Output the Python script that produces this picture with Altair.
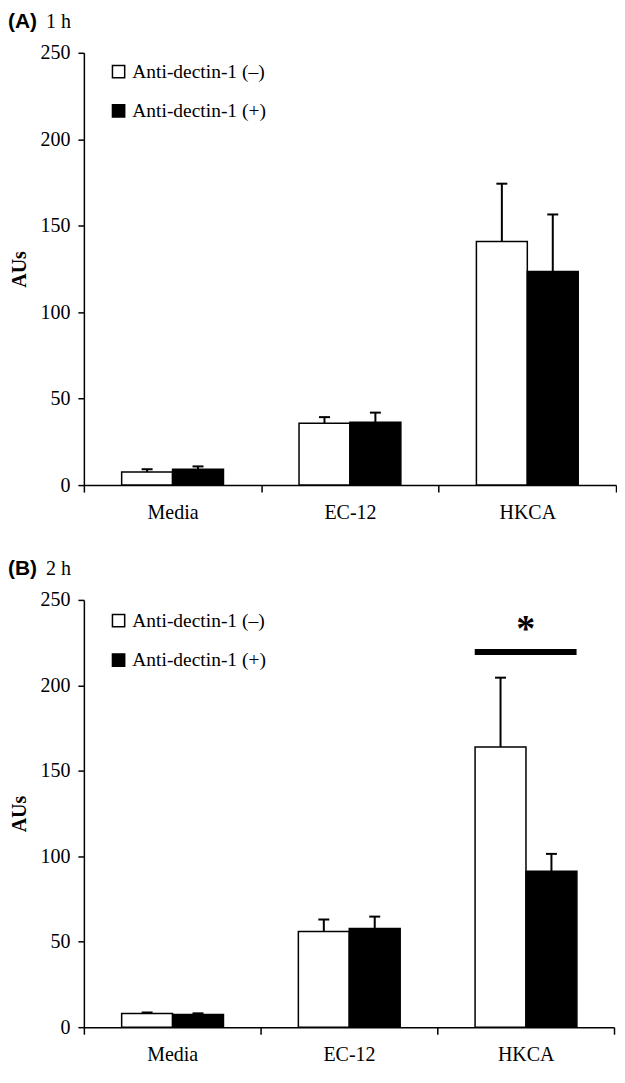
import altair as alt
import pandas as pd

SERIF = "Liberation Serif"
SANS = "Liberation Sans"

categories = ["Media", "EC-12", "HKCA"]
groups = ["Anti-dectin-1 (–)", "Anti-dectin-1 (+)"]
y_ticks = [0, 50, 100, 150, 200, 250]

# Panel A (1 h)
a_mean_neg = [7.5, 35.8, 140.8]
a_err_neg = [1.7, 3.5, 33.5]
a_mean_pos = [9.2, 36.3, 123.5]
a_err_pos = [1.6, 5.6, 33.0]

# Panel B (2 h)
b_mean_neg = [8.0, 56.0, 164.0]
b_err_neg = [0.6, 7.0, 40.5]
b_mean_pos = [7.5, 57.7, 91.2]
b_err_pos = [0.6, 7.0, 10.2]

# significance marker in panel B
sig_cat = ["HKCA"]
sig_bar_y = [219.5]
sig_star_y = [236]


def make_df(mean_neg, err_neg, mean_pos, err_pos):
    rows = []
    for i, c in enumerate(categories):
        rows.append({"cat": c, "grp": groups[0], "mean": mean_neg[i], "top": mean_neg[i] + err_neg[i]})
        rows.append({"cat": c, "grp": groups[1], "mean": mean_pos[i], "top": mean_pos[i] + err_pos[i]})
    return pd.DataFrame(rows)


def panel(df, letter, sub, w, h, pad_outer, leg_x, leg_y, sig=False):
    base = alt.Chart(df)
    x = alt.X(
        "cat:N",
        sort=categories,
        scale=alt.Scale(domain=categories, paddingInner=0, paddingOuter=0),
        axis=alt.Axis(title=None, tickBand="extent", labelAngle=0),
    )
    xo = alt.XOffset(
        "grp:N", sort=groups,
        scale=alt.Scale(domain=groups, paddingInner=0, paddingOuter=pad_outer),
    )
    y = alt.Y(
        "mean:Q", scale=alt.Scale(domain=[0, 250], nice=False),
        axis=alt.Axis(
            values=y_ticks, title="AUs", titleX=-64, titleY=h / 2,
            titleAngle=270, titleAlign="center", titleBaseline="middle",
        ),
    )

    bars = base.mark_bar(stroke="black", strokeWidth=1.5).encode(
        x=x, xOffset=xo, y=y,
        color=alt.Color(
            "grp:N",
            scale=alt.Scale(domain=groups, range=["white", "black"]),
            legend=alt.Legend(
                title=None, orient="none", legendX=leg_x, legendY=leg_y,
                symbolType="square", symbolSize=150, symbolStrokeColor="black",
                symbolStrokeWidth=1.5, symbolOpacity=1, labelFont=SERIF,
                labelFontSize=19.5, labelColor="black", rowPadding=18.5,
                labelOffset=4, padding=0,
            ),
        ),
    )
    rules = base.mark_rule(color="black", strokeWidth=2).encode(
        x=x, xOffset=xo, y="mean:Q", y2="top:Q"
    )
    caps = base.mark_tick(color="black", thickness=2, size=11, orient="horizontal", opacity=1).encode(
        x=x, xOffset=xo, y="top:Q"
    )
    lab = pd.DataFrame({"t": [letter], "s": [sub]})
    t1 = alt.Chart(lab).mark_text(
        font=SANS, fontWeight="bold", fontSize=21, align="left",
        baseline="alphabetic", color="black",
    ).encode(text="t:N", x=alt.value(-76), y=alt.value(-25))
    t2 = alt.Chart(lab).mark_text(
        font=SERIF, fontSize=20, align="left", baseline="alphabetic", color="black",
    ).encode(text="s:N", x=alt.value(-38), y=alt.value(-25))

    layers = [bars, rules, caps]
    if sig:
        sdf = pd.DataFrame({"cat": sig_cat, "bar": sig_bar_y, "star": sig_star_y})
        sbar = alt.Chart(sdf).mark_tick(
            color="black", thickness=6, size=102, orient="horizontal", opacity=1
        ).encode(x=alt.X("cat:N", sort=categories), y=alt.Y("bar:Q"))
        star = alt.Chart(sdf).mark_text(
            text="*", font=SERIF, fontWeight="bold", fontSize=38, baseline="middle",
            color="black", dy=6,
        ).encode(x=alt.X("cat:N", sort=categories), y=alt.Y("star:Q"))
        layers += [sbar, star]
    layers += [t1, t2]
    return alt.layer(*layers).properties(width=w, height=h)


pa = panel(make_df(a_mean_neg, a_err_neg, a_mean_pos, a_err_pos), "(A)", "1 h", 533, 433, 0.742, 25, 9)
pb = panel(make_df(b_mean_neg, b_err_neg, b_mean_pos, b_err_pos), "(B)", "2 h", 531, 428, 0.752, 25, 11, sig=True)

chart = (
    alt.vconcat(pa, pb, spacing=36, padding={"left": 0, "top": 2, "right": 0, "bottom": 0})
    .resolve_scale(color="independent")
    .properties(background="white")
    .configure_view(strokeWidth=0)
    .configure_axis(
        labelFont=SERIF, labelFontSize=20, labelColor="black",
        titleFont=SERIF, titleFontSize=20, titleFontWeight="bold", titleColor="black",
        domainColor="black", domainWidth=1.5, tickColor="black", tickWidth=1.5,
        grid=False,
    )
    .configure_axisY(tickSize=6, labelPadding=8, minExtent=76, maxExtent=76)
    .configure_axisX(tickSize=7, labelPadding=10)
)

chart.save("out.html", embed_options={"renderer": "svg", "actions": False})
